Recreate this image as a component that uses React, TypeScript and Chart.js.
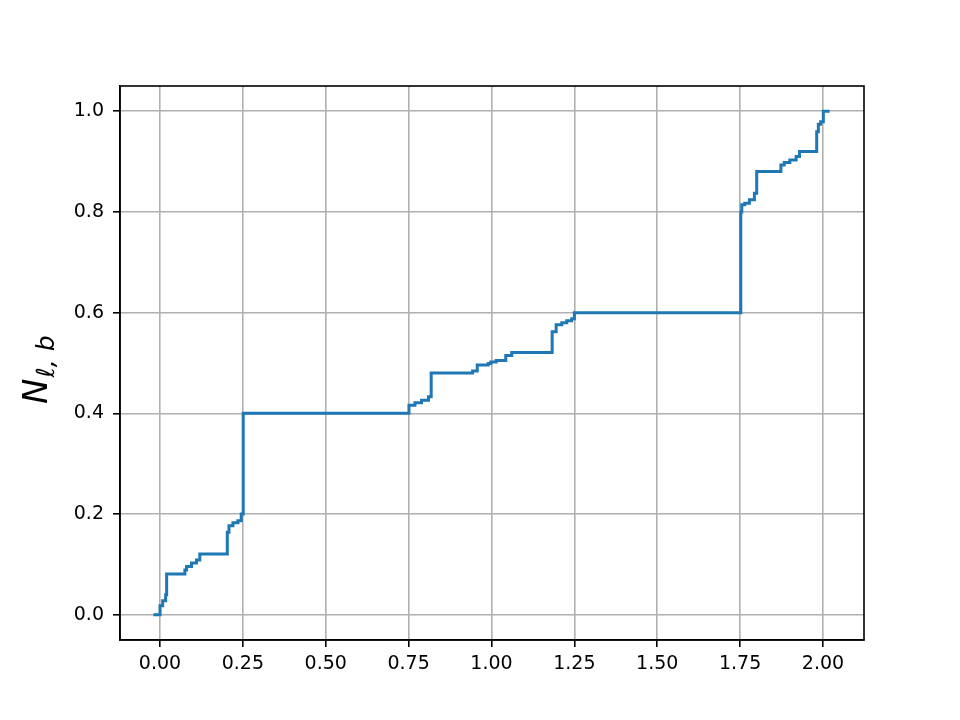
import React, { useEffect, useRef } from "react";
import { Chart, registerables } from "chart.js";

Chart.register(...registerables);

// Step positions (x) and the value reached at each step (y)
const stepX: number[] = [
  -0.02, 0.0, 0.008, 0.017, 0.02,
  0.075, 0.08, 0.095, 0.11, 0.12,
  0.203, 0.208, 0.22, 0.235, 0.245, 0.251,
  0.751, 0.769, 0.789, 0.81, 0.818,
  0.943, 0.957, 0.99, 0.998, 1.014, 1.043, 1.061,
  1.183, 1.195, 1.212, 1.227, 1.242, 1.25,
  1.752, 1.755, 1.764, 1.778, 1.793, 1.8,
  1.873, 1.883, 1.9, 1.919, 1.929,
  1.981, 1.986, 1.993, 2.001, 2.02,
];
const stepY: number[] = [
  0.0, 0.018, 0.028, 0.04, 0.081,
  0.089, 0.096, 0.103, 0.109, 0.121,
  0.164, 0.177, 0.183, 0.187, 0.2, 0.4,
  0.416, 0.421, 0.426, 0.433, 0.48,
  0.484, 0.496, 0.499, 0.502, 0.505, 0.515, 0.521,
  0.562, 0.576, 0.58, 0.584, 0.588, 0.6,
  0.8, 0.814, 0.817, 0.824, 0.837, 0.88,
  0.893, 0.898, 0.903, 0.91, 0.92,
  0.959, 0.974, 0.979, 1.0, 1.0,
];
const xTicks: number[] = [0, 0.25, 0.5, 0.75, 1.0, 1.25, 1.5, 1.75, 2.0];
const yTicks: number[] = [0, 0.2, 0.4, 0.6, 0.8, 1.0];
const yLabelMain = "N";
const yLabelSub = "ℓ, b";

const frameAndLabel = {
  id: "frameAndLabel",
  afterDraw(chart: any) {
    const { ctx, chartArea } = chart;
    ctx.save();
    ctx.strokeStyle = "#000";
    ctx.lineWidth = 1.6;
    ctx.strokeRect(chartArea.left, chartArea.top, chartArea.right - chartArea.left, chartArea.bottom - chartArea.top);
    ctx.restore();

    ctx.save();
    ctx.translate(47, 404);
    ctx.rotate(-Math.PI / 2);
    ctx.fillStyle = "#000";
    ctx.textBaseline = "alphabetic";
    ctx.textAlign = "left";
    ctx.font = "oblique 34px 'DejaVu Sans'";
    ctx.fillText(yLabelMain, 0, 0);
    const w = ctx.measureText(yLabelMain).width;
    ctx.font = "oblique 25px 'DejaVu Sans'";
    ctx.fillText(yLabelSub, w + 1, 7);
    ctx.restore();
  },
};

export default function App() {
  const ref = useRef<HTMLCanvasElement | null>(null);
  useEffect(() => {
    if (!ref.current) return;
    const data = stepX.map((x, i) => ({ x, y: stepY[i] }));
    const tickFont = { family: "'DejaVu Sans'", size: 19 };
    const chart = new Chart(ref.current, {
      type: "line",
      data: {
        datasets: [
          {
            data,
            stepped: "before",
            borderColor: "#1f77b4",
            borderWidth: 3,
            pointRadius: 0,
            fill: false,
          },
        ],
      },
      options: {
        animation: false,
        responsive: false,
        devicePixelRatio: 1,
        layout: { padding: { left: 0, top: 86, right: 96, bottom: 0 } },
        plugins: { legend: { display: false }, tooltip: { enabled: false } },
        scales: {
          x: {
            type: "linear",
            min: -0.1207,
            max: 2.1237,
            afterBuildTicks: (s: any) => {
              s.ticks = xTicks.map((v) => ({ value: v }));
            },
            afterFit: (s: any) => {
              s.height = 80;
            },
            ticks: {
              color: "#000",
              font: tickFont,
              padding: 6,
              maxRotation: 0,
              autoSkip: false,
              callback: (v: any) => Number(v).toFixed(2),
            },
            grid: {
              color: "#b0b0b0",
              lineWidth: 1.6,
              tickColor: "#000",
              tickLength: 7,
              tickWidth: 1.6,
            },
            border: { color: "#000", width: 1.6 },
          },
          y: {
            min: -0.05,
            max: 1.05,
            afterBuildTicks: (s: any) => {
              s.ticks = yTicks.map((v) => ({ value: v }));
            },
            afterFit: (s: any) => {
              s.width = 120;
            },
            ticks: {
              color: "#000",
              font: tickFont,
              padding: 9,
              autoSkip: false,
              callback: (v: any) => Number(v).toFixed(1),
            },
            grid: {
              color: "#b0b0b0",
              lineWidth: 1.6,
              tickColor: "#000",
              tickLength: 7,
              tickWidth: 1.6,
            },
            border: { color: "#000", width: 1.6 },
          },
        },
      },
      plugins: [frameAndLabel],
    });
    return () => chart.destroy();
  }, []);
  return (
    <div style={{ position: "absolute", left: 0, top: 0, width: 960, height: 720, background: "#fff" }}>
      <canvas ref={ref} width={960} height={720} />
    </div>
  );
}
